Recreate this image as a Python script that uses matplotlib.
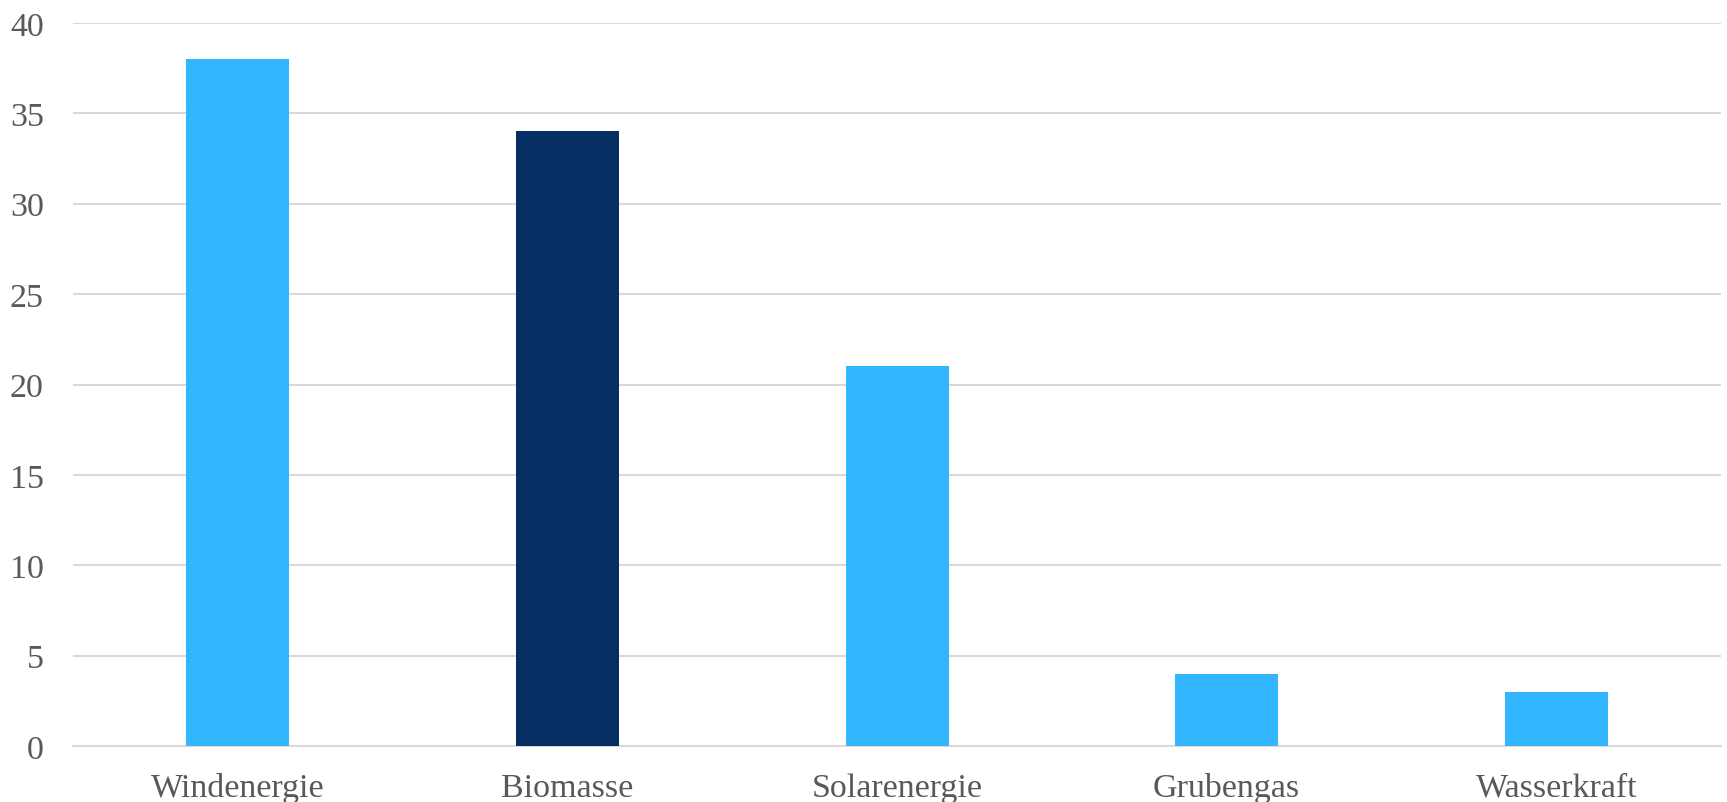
import matplotlib.pyplot as plt

# Anteile der Energieträger
categories = ['Windenergie', 'Biomasse', 'Solarenergie', 'Grubengas', 'Wasserkraft']
values = [38, 34, 21, 4, 3]
bar_colors = ['#33B5FF', '#062E63', '#33B5FF', '#33B5FF', '#33B5FF']

plt.rcParams['font.family'] = ['Liberation Serif', 'DejaVu Serif']

fig = plt.figure(figsize=(17.27, 8.03), dpi=100)
ax = fig.add_axes([73 / 1727, 1 - 747 / 803, (1721 - 73) / 1727, (747 - 24) / 803])

ax.bar(range(len(categories)), values, width=0.3125, color=bar_colors, zorder=3)

ax.set_xlim(-0.5, len(categories) - 0.5)
ax.set_ylim(0, 40)
ax.set_yticks(range(0, 41, 5))
ax.set_xticks(range(len(categories)))
ax.set_xticklabels(categories)

ax.grid(axis='y', color='#D9D9D9', linewidth=1.5, zorder=0)
for side in ['top', 'right', 'left']:
    ax.spines[side].set_visible(False)
ax.spines['bottom'].set_color('#D9D9D9')
ax.spines['bottom'].set_linewidth(1.5)

ax.tick_params(axis='both', length=0, labelsize=24.5, labelcolor='#595959')
ax.tick_params(axis='y', pad=21)
ax.tick_params(axis='x', pad=19)

fig.savefig('out.png', dpi=100)
